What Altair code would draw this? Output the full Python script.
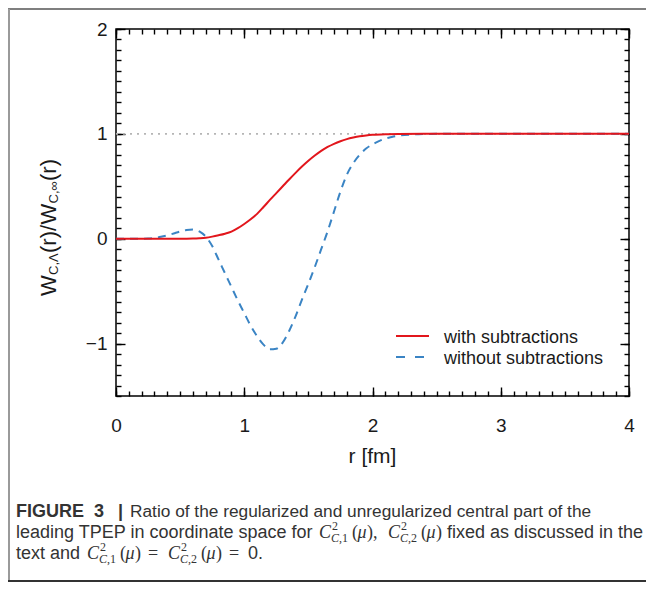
import altair as alt
import pandas as pd
import numpy as np

# ---------------- data ----------------
r_with = [0.0, 0.5, 0.6, 0.65, 0.7, 0.75, 0.8, 0.85, 0.9, 0.95, 1.0, 1.05, 1.1, 1.15,
          1.2, 1.25, 1.3, 1.35, 1.4, 1.45, 1.5, 1.55, 1.6, 1.65, 1.7, 1.75, 1.8, 1.85,
          1.9, 1.95, 2.0, 2.1, 2.2, 2.4, 4.0]
w_with = [0.0, 0.0, 0.002, 0.005, 0.01, 0.02, 0.033, 0.048, 0.068, 0.1, 0.14, 0.185, 0.237,
          0.302, 0.37, 0.435, 0.5, 0.565, 0.628, 0.688, 0.743, 0.793, 0.838, 0.875, 0.905,
          0.93, 0.95, 0.965, 0.977, 0.985, 0.991, 0.997, 0.999, 1.0, 1.0]

r_without = [0.0, 0.2, 0.25, 0.3, 0.35, 0.4, 0.45, 0.5, 0.55, 0.6, 0.65, 0.7, 0.75, 0.8,
             0.85, 0.9, 0.95, 1.0, 1.05, 1.1, 1.15, 1.2, 1.25, 1.3, 1.35, 1.4, 1.45, 1.5,
             1.55, 1.6, 1.65, 1.7, 1.75, 1.8, 1.85, 1.9, 1.95, 2.0, 2.05, 2.1, 2.15, 2.2,
             2.3, 2.4, 2.5, 4.0]
w_without = [0.0, 0.0, 0.002, 0.008, 0.018, 0.032, 0.05, 0.068, 0.083, 0.088, 0.07, 0.02,
             -0.07, -0.2, -0.33, -0.46, -0.59, -0.71, -0.83, -0.93, -1.01, -1.055, -1.05,
             -0.99, -0.88, -0.74, -0.58, -0.43, -0.27, -0.1, 0.07, 0.26, 0.45, 0.61, 0.72,
             0.8, 0.86, 0.9, 0.93, 0.955, 0.97, 0.982, 0.993, 0.998, 1.0, 1.0]

x_major = [0, 1, 2, 3, 4]
y_major = [-1, 0, 1, 2]
x_minor = [round(v, 1) for v in np.arange(0, 4.01, 0.1)]
y_minor = [round(v, 1) for v in np.arange(-1.5, 2.01, 0.1)]
ref_level = [1.0]
series_names = ["with subtractions", "without subtractions"]

# ---------------- layout ----------------
W, H = 513, 367
OX, OY = 116, 29          # page position of the plot area
TOTAL_W, TOTAL_H = 638, 574
PAD = {"left": OX - 8, "top": OY - 8, "right": TOTAL_W - (OX - 8) - W,
       "bottom": TOTAL_H - (OY - 8) - H}

RED = "#e2161c"
BLUE = "#3a84c4"
FONT = "Liberation Sans"
SERIF = "Liberation Serif"
CAP = "#333333"
INK = "#1a1a1a"


def px(x):
    return x - OX


def py(y):
    return y - OY


one = pd.DataFrame({"k": [0]})


def txt(s, x, y, size=18, font=FONT, style="normal", weight="normal",
        color=CAP, align="left", angle=0):
    return alt.Chart(one).mark_text(
        text=s, font=font, fontSize=size, fontStyle=style, fontWeight=weight,
        color=color, align=align, baseline="alphabetic", angle=angle
    ).encode(x=alt.value(px(x)), y=alt.value(py(y)))


def rule(x1, x2, y1, y2, color, width, dash=None):
    kw = dict(color=color, strokeWidth=width)
    if dash:
        kw["strokeDash"] = dash
    return alt.Chart(one).mark_rule(**kw).encode(
        x=alt.value(px(x1)), x2=alt.value(px(x2)),
        y=alt.value(py(y1)), y2=alt.value(py(y2)))


xs = alt.Scale(domain=[0, 4], nice=False, zero=False)
ys = alt.Scale(domain=[-1.5, 2], nice=False, zero=False)

df_with = pd.DataFrame({"r": r_with, "w": w_with})
df_without = pd.DataFrame({"r": r_without, "w": w_without})

dotted = alt.Chart(pd.DataFrame({"y": ref_level})).mark_rule(
    color="#b5b5b5", strokeWidth=1.6, strokeDash=[2, 5]
).encode(y=alt.Y("y:Q", scale=ys, axis=None))

blue = alt.Chart(df_without).mark_line(
    color=BLUE, strokeWidth=2, strokeDash=[8, 6], interpolate="monotone"
).encode(x=alt.X("r:Q", scale=xs, axis=None), y=alt.Y("w:Q", scale=ys, axis=None))

red = alt.Chart(df_with).mark_line(
    color=RED, strokeWidth=2, interpolate="monotone"
).encode(
    x=alt.X("r:Q", scale=xs, axis=alt.Axis(
        orient="bottom", values=x_major, ticks=False, domain=False, grid=False,
        labelFontSize=19, labelPadding=20, labelFlush=False, labelOverlap=False,
        labelColor=INK, labelFont=FONT, title=None, format="d")),
    y=alt.Y("w:Q", scale=ys, axis=alt.Axis(
        orient="left", values=y_major, ticks=False, domain=False, grid=False,
        labelFontSize=19, labelPadding=9, labelFlush=False, labelOverlap=False,
        labelColor=INK, labelFont=FONT, title=None, format="d")),
)


def tick_layer(xv, yv, size, xo, yo):
    common = dict(ticks=True, tickSize=size, tickWidth=1.4, tickColor="black",
                  labels=False, domain=False, grid=False, title=None)
    return alt.Chart(df_with).mark_point(opacity=0).encode(
        x=alt.X("r:Q", scale=xs, axis=alt.Axis(orient=xo, offset=-H, values=xv, **common)),
        y=alt.Y("w:Q", scale=ys, axis=alt.Axis(orient=yo, offset=-W, values=yv, **common)),
    )


ticks = [
    tick_layer(x_major, y_major, 9, "top", "right"),
    tick_layer(x_minor, y_minor, 5, "top", "right"),
    tick_layer(x_major, y_major, 9, "bottom", "left"),
    tick_layer(x_minor, y_minor, 5, "bottom", "left"),
]

# legend
legend = [
    rule(396, 429, 336, 336, RED, 2),
    rule(396, 424, 357, 357, BLUE, 2, [9, 10]),
    txt(series_names[0], 444, 342.5, size=18, color=INK),
    txt(series_names[1], 444, 363.5, size=18, color=INK),
]

# axis titles
titles = [
    txt("r [fm]", 372.5, 463, size=21, color=INK, align="center"),
    txt("W", 56, 296, size=22, color=INK, angle=270),
    txt("C,Λ", 58, 275, size=13, color=INK, angle=270),
    txt("(r)/", 56, 253, size=22, color=INK, angle=270),
    txt("W", 56, 224.5, size=22, color=INK, angle=270),
    txt("C,∞", 58, 203.5, size=13, color=INK, angle=270),
    txt("(r)", 56, 181, size=22, color=INK, angle=270),
]

# frame
BOTTOM = 8 + TOTAL_H - 1
frame = [
    rule(8, 660, 9, 9, "#555555", 1.5),
    rule(9, 9, 9, BOTTOM, "#9a9a9a", 2),
    rule(8, 660, BOTTOM, BOTTOM, "#333333", 2),
]


def math_group(x, y, sub):
    """C^2_{C,sub}(mu) starting at x; returns pieces and the x after ')'."""
    parts = [
        txt("C", x, y, size=18, font=SERIF, style="italic"),
        txt("2", x + 13, y - 8, size=12, font=SERIF),
        txt("C", x + 12, y + 4, size=12, font=SERIF, style="italic"),
        txt("," + sub, x + 20, y + 4, size=12, font=SERIF),
        txt("(", x + 33, y, size=18, font=SERIF),
        txt("μ", x + 38.5, y, size=18, font=SERIF, style="italic"),
        txt(")", x + 48, y, size=18, font=SERIF),
    ]
    return parts, x + 54


# caption
L1, L2, L3 = 517, 538, 559
caption = [
    txt("FIGURE", 16, L1, weight="bold"),
    txt("3", 94, L1, weight="bold"),
    txt("|", 118, L1, weight="bold"),
    txt("Ratio of the regularized and unregularized central part of the", 130, L1, size=17.3),
    txt("leading TPEP in coordinate space for", 16, L2),
]
g, xe = math_group(319, L2, "1")
caption += g + [txt(",", xe, L2, size=18, font=SERIF)]
g, xe = math_group(388, L2, "2")
caption += g + [txt("fixed as discussed in the", xe + 5, L2)]
caption += [txt("text and", 16, L3)]
g, xe = math_group(87, L3, "1")
caption += g + [txt("=", xe + 7, L3, size=18, font=SERIF)]
g, xe = math_group(xe + 27, L3, "2")
caption += g + [txt("=", xe + 7, L3, size=18, font=SERIF),
                txt("0.", xe + 26, L3)]

chart = alt.layer(
    dotted, blue, red, *ticks, *legend, *titles, *frame, *caption
).resolve_axis(
    x="independent", y="independent"
).properties(
    width=W, height=H,
    autosize=alt.AutoSizeParams(type="none"),
    padding=PAD,
).configure_view(stroke="black", strokeWidth=1.5)

chart.save("out.html", embed_options={"renderer": "svg", "actions": False})
